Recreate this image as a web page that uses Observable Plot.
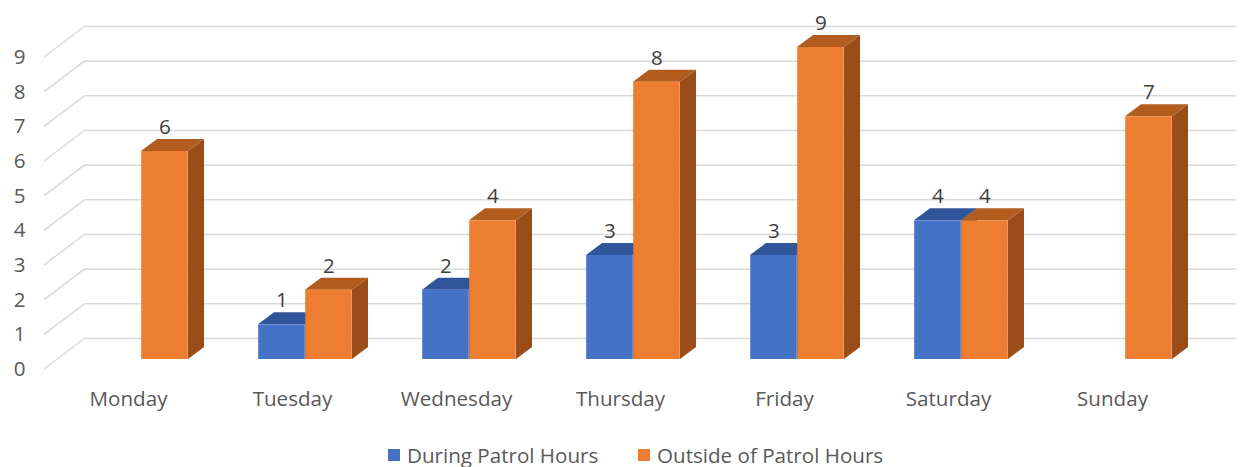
<!DOCTYPE html>
<html>
<head>
<meta charset="utf-8">
<script src="https://cdn.jsdelivr.net/npm/d3@7"></script>
<script src="https://cdn.jsdelivr.net/npm/@observablehq/plot@0.6"></script>
<style>
  body { margin: 0; background: #fff; font-family: "Open Sans", sans-serif; overflow: hidden; }
  #legend { position: relative; height: 27px; font-size: 20.6px; line-height: 22px; color: #595959; }
  .item { position: absolute; top: 4px; height: 22px; display: flex; align-items: center; white-space: nowrap; }
  .sw { width: 12px; height: 12px; margin-right: 7px; }
</style>
</head>
<body>
<div id="chart"></div>
<div id="legend"></div>
<script>
// ---- data ----
const days = ["Monday", "Tuesday", "Wednesday", "Thursday", "Friday", "Saturday", "Sunday"];
const seriesNames = ["During Patrol Hours", "Outside of Patrol Hours"];
const duringValues = [0, 1, 2, 3, 3, 4, 0];
const outsideValues = [6, 2, 4, 8, 9, 4, 7];
const yTicks = [0, 1, 2, 3, 4, 5, 6, 7, 8, 9];

// ---- styling constants ----
const frontColors = ["#4472C4", "#ED7D31"];
const topColors = ["#30559A", "#B35C20"];
const sideColors = ["#27487F", "#9A4C19"];
const W = 1243, H = 440;
const mLeft = 44, mRight = 48, mTop = 57, mBottom = 71;
const wallDx = 41, wallDy = -31;     // depth of the floor / back wall
const barDx = 13, barDy = -10;       // bar front plane offset from front edge
const depDx = 16, depDy = -12;       // bar depth
const barW = 47;                     // bar width in px
const bandW = (W - mLeft - mRight) / days.length;
const offsets = [barDx - barW / 2, barDx + barW / 2]; // center offsets per series

const rows = [];
days.forEach((d, i) => {
  rows.push({day: d, series: 0, value: duringValues[i]});
  rows.push({day: d, series: 1, value: outsideValues[i]});
});
const bars = rows.filter(r => r.value > 0);

function bandwidthOf(x) {
  return typeof x.bandwidth === "function" ? x.bandwidth() : x.bandwidth;
}

// floor / wall diagonals
function diagonals(index, scales) {
  const y = scales.y;
  const g = d3.create("svg:g").attr("stroke", "#D9D9D9").attr("stroke-width", 1.5).attr("fill", "none");
  for (const t of yTicks) {
    const yy = y(t);
    g.append("line").attr("x1", mLeft).attr("y1", yy).attr("x2", mLeft + wallDx).attr("y2", yy + wallDy);
  }
  return g.node();
}

// 3D top and side faces of bars
function depthFaces(index, scales) {
  const x = scales.x, y = scales.y;
  const bw = bandwidthOf(x);
  const g = d3.create("svg:g");
  for (const r of bars) {
    const cx = x(r.day) + bw / 2 + offsets[r.series];
    const x1 = cx - barW / 2, x2 = cx + barW / 2;
    const yt = y(r.value) + barDy, yb = y(0) + barDy;
    g.append("path")
      .attr("d", `M${x2},${yt}L${x2 + depDx},${yt + depDy}L${x2 + depDx},${yb + depDy}L${x2},${yb}Z`)
      .attr("fill", sideColors[r.series]);
    g.append("path")
      .attr("d", `M${x1},${yt}L${x1 + depDx},${yt + depDy}L${x2 + depDx},${yt + depDy}L${x2},${yt}Z`)
      .attr("fill", topColors[r.series]);
  }
  return g.node();
}

const chart = Plot.plot({
  width: W,
  height: H,
  marginLeft: mLeft,
  marginRight: mRight,
  marginTop: mTop,
  marginBottom: mBottom,
  style: {fontFamily: "'Open Sans', sans-serif", fontSize: "20.6px", color: "#595959", background: "#fff"},
  x: {domain: days, padding: 0, tickSize: 0, tickPadding: 22, label: null},
  y: {domain: [0, 9], ticks: yTicks, tickSize: 0, tickPadding: 19, label: null},
  marks: [
    Plot.ruleY(yTicks, {dx: wallDx, dy: wallDy, stroke: "#D9D9D9", strokeWidth: 1.5}),
    diagonals,
    depthFaces,
    ...[0, 1].map(s => Plot.barY(bars.filter(b => b.series === s), {
      x: "day", y: "value",
      fill: frontColors[s],
      dx: offsets[s], dy: barDy,
      insetLeft: (bandW - barW) / 2,
      insetRight: (bandW - barW) / 2
    })),
    ...[0, 1].map(s => Plot.text(bars.filter(b => b.series === s), {
      x: "day", y: "value", text: d => String(d.value),
      dx: offsets[s], dy: barDy - 24,
      fill: "#404040", fontSize: 20.6
    }))
  ]
});
document.getElementById("chart").appendChild(chart);

// legend
const legend = document.getElementById("legend");
const lx = [388, 638];
seriesNames.forEach((name, i) => {
  const it = document.createElement("div");
  it.className = "item";
  it.style.left = lx[i] + "px";
  it.innerHTML = `<span class="sw" style="background:${frontColors[i]}"></span><span>${name}</span>`;
  legend.appendChild(it);
});
</script>
</body>
</html>
